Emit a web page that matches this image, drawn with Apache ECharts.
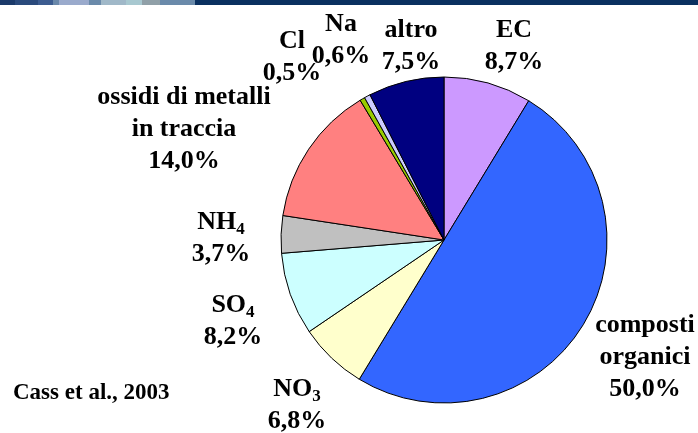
<!DOCTYPE html>
<html>
<head>
<meta charset="utf-8">
<script src="https://cdn.jsdelivr.net/npm/echarts@6/dist/echarts.min.js"></script>
<style>
  html, body { margin: 0; padding: 0; background: #fff; }
  #main { width: 698px; height: 433px; }
</style>
</head>
<body>
<div id="main"></div>
<script>
var categories = ['EC', 'composti organici', 'NO3', 'SO4', 'NH4', 'ossidi di metalli in traccia', 'Cl', 'Na', 'altro'];
var shares = [8.7, 50.0, 6.8, 8.2, 3.7, 14.0, 0.5, 0.6, 7.5];
var sliceColors = ['#CC99FF', '#3366FF', '#FFFFCC', '#CCFFFF', '#C0C0C0', '#FF8080', '#99CC00', '#CCCCFF', '#000080'];

// rich text for the name part of each label (subscripts, line breaks)
var labelNames = [
    '{n|EC}',
    '{n|composti}\n{n|organici}',
    '{n|NO}{s|3}',
    '{n|SO}{s|4}',
    '{n|NH}{s|4}',
    '{n|ossidi di metalli}\n{n|in traccia}',
    '{n|Cl}',
    '{n|Na}',
    '{n|altro}'
];
// where each label block sits, relative to the pie centre
var labelOffset = [[70, -194], [201, 117], [-147, 165], [-211, 81], [-223, -2], [-260, -111], [-152, -183], [-103, -200], [-33, -194]];

var cx = 444, cy = 240;

// decorative strip at the top of the slide
var strip = [[0, 15, '#1b3a6a'], [15, 38, '#2a4a7c'], [38, 53, '#3c5c90'], [53, 59, '#6a88aa'], [59, 89, '#9aaacc'],
    [89, 101, '#6a8aaa'], [101, 126, '#a0b8c8'], [126, 142, '#a8c8d0'], [142, 160, '#90a0a8'], [160, 195, '#6a8aaa'], [195, 698, '#0a3060']];

var myChart = echarts.init(document.getElementById('main'));

var data = categories.map(function (c, i) {
    return {
        name: c,
        value: shares[i],
        itemStyle: { color: sliceColors[i] }
    };
});

var option = {
    backgroundColor: '#fff',
    animation: false,
    title: {
        text: 'Cass et al., 2003',
        left: 8,
        top: 377,
        textStyle: {
            fontFamily: 'Liberation Serif',
            fontWeight: 'bold',
            fontSize: 23,
            color: '#000'
        }
    },
    graphic: strip.map(function (s) {
        return {
            type: 'rect',
            shape: { x: s[0], y: 0, width: s[1] - s[0], height: 5 },
            style: { fill: s[2] },
            silent: true
        };
    }),
    series: [{
        type: 'pie',
        center: [cx, cy],
        radius: 163,
        startAngle: 90,
        clockwise: true,
        avoidLabelOverlap: false,
        data: data,
        itemStyle: {
            borderColor: '#000',
            borderWidth: 1
        },
        label: {
            show: true,
            position: 'outside',
            color: '#000',
            formatter: function (p) {
                return labelNames[p.dataIndex] + '\n{n|' + shares[p.dataIndex].toFixed(1).replace('.', ',') + '%}';
            },
            rich: {
                n: {
                    fontFamily: 'Liberation Serif',
                    fontWeight: 'bold',
                    fontSize: 26,
                    lineHeight: 32,
                    color: '#000'
                },
                s: {
                    fontFamily: 'Liberation Serif',
                    fontWeight: 'bold',
                    fontSize: 17,
                    lineHeight: 32,
                    verticalAlign: 'bottom',
                    color: '#000'
                }
            }
        },
        labelLine: { show: false },
        labelLayout: function (p) {
            var o = labelOffset[p.dataIndex];
            return {
                x: cx + o[0],
                y: cy + o[1],
                align: 'center',
                verticalAlign: 'middle'
            };
        }
    }]
};

myChart.setOption(option);
</script>
</body>
</html>
